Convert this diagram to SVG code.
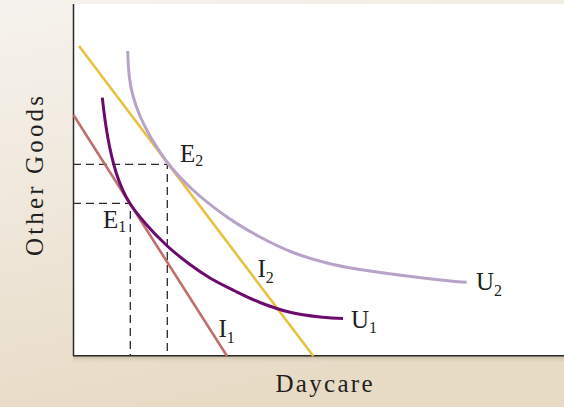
<svg xmlns="http://www.w3.org/2000/svg" width="564" height="407" viewBox="0 0 564 407">
<defs>
<linearGradient id="bg" x1="0" y1="0" x2="0.3" y2="1">
<stop offset="0" stop-color="#f6f3ee"/>
<stop offset="1" stop-color="#e8dbc6"/>
</linearGradient>
<linearGradient id="sh" x1="0" y1="0" x2="0" y2="1">
<stop offset="0" stop-color="#b9ab95" stop-opacity="0.7"/>
<stop offset="1" stop-color="#e8dcc8" stop-opacity="0"/>
</linearGradient>
<style>
.lbl{font-family:"Liberation Serif","Times New Roman",serif;font-size:25px;fill:#231f20}
.sub{font-size:16px}
.dash{fill:none;stroke:#2a2a2a;stroke-width:1.3;stroke-dasharray:8 5}
.crv{fill:none;stroke-linecap:butt;stroke-width:3}
</style>
</defs>
<rect x="0" y="0" width="564" height="407" fill="url(#bg)"/>
<rect x="73" y="356" width="491" height="8" fill="url(#sh)"/>
<rect x="73" y="4" width="491" height="352" fill="#ffffff"/>
<g id="axes" fill="none" stroke="#2b2b2b" stroke-width="1.5">
<line x1="73.5" y1="4" x2="73.5" y2="356"/>
<line x1="73" y1="355.7" x2="564" y2="355.7"/>
</g>
<g id="connectors">
<path class="dash" d="M73,164.3 H167.3 V356"/>
<path class="dash" d="M73,203.3 H130.3 V356"/>
</g>
<g id="I1"><line x1="73.5" y1="115" x2="227" y2="356" stroke="#bf6f6d" stroke-width="2.6"/></g>
<g id="I2"><line x1="79" y1="46" x2="313.3" y2="356" stroke="#e8c23e" stroke-width="2.6"/></g>
<g id="U1"><path class="crv" stroke="#6c0b6c" d="M102.3,97.6 C104.2,115.3 106.1,128.05 108,138.6 C110.67,153.4 113.33,163.72 116,172.2 C120.67,187.04 125.33,196.17 130,203.5 C135,211.35 140,217.15 145,223 C152.23,231.46 159.47,238.77 166.7,245.5 C174.47,252.72 182.23,258.71 190,264.5 C196.67,269.47 203.33,274 210,278 C218.33,283 226.67,286.92 235,291 C243.33,295.08 251.67,299.25 260,302.5 C270,306.4 280,309.9 290,312.3 C300,314.7 310,315.9 320,317 C327.67,317.84 335.33,318.35 343,318.5"/></g>
<g id="U2"><path class="crv" stroke="#b8a3c8" d="M127.7,51 C127.97,60.02 128.41,69.04 129.5,78 C130.28,84.41 131.58,90.77 133.3,97 C135.09,103.48 137.35,109.82 140,116 C142.94,122.85 146.38,129.49 150,136 C153.06,141.5 156.56,146.74 160,152 C162.23,155.41 164.55,158.76 167,162 C174.68,172.15 183.61,181.39 193,190 C203.66,199.78 215.15,208.69 227,217 C237.53,224.38 248.67,230.9 260,237 C270.7,242.76 281.68,248.1 293,252.5 C304.05,256.79 315.51,260.08 327,263 C337.86,265.76 348.92,267.77 360,269.5 C380.94,272.76 401.96,275.48 423,278 C437.54,279.74 452.06,281.42 466.7,282.3"/></g>
<g id="labels">
<text class="lbl" x="180" y="161.5">E<tspan class="sub" dy="4">2</tspan></text>
<text class="lbl" x="103" y="228.3">E<tspan class="sub" dy="4">1</tspan></text>
<text class="lbl" x="257.5" y="276.7">I<tspan class="sub" dy="6">2</tspan></text>
<text class="lbl" x="218.5" y="337">I<tspan class="sub" dy="6">1</tspan></text>
<text class="lbl" x="351" y="328">U<tspan class="sub" dy="5">1</tspan></text>
<text class="lbl" x="476" y="290">U<tspan class="sub" dy="6">2</tspan></text>
<text class="lbl" x="275.5" y="392" textLength="97" lengthAdjust="spacing">Daycare</text>
<text class="lbl" transform="translate(43,256) rotate(-90)" x="0" y="0" textLength="160" lengthAdjust="spacing">Other Goods</text>
</g>
</svg>
